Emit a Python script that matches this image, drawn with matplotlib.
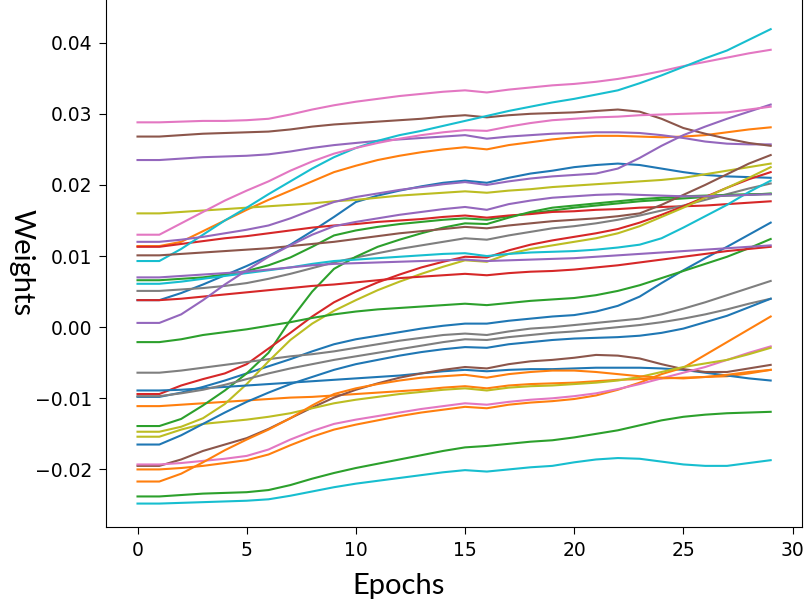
import numpy as np
import matplotlib.pyplot as plt

# weights (x 1e-3) for each tracked parameter, epochs 0..29
epochs = np.arange(30)

pink_a = [28.8, 28.8, 28.9, 29.0, 29.0, 29.1, 29.3, 29.9, 30.6, 31.2, 31.7, 32.1, 32.5, 32.8, 33.1,
          33.3, 33.0, 33.4, 33.7, 34.0, 34.2, 34.5, 34.9, 35.4, 36.0, 36.7, 37.3, 37.9, 38.5, 39.0]
cyan_a = [9.3, 9.3, 11.0, 13.0, 15.0, 16.8, 18.7, 20.5, 22.3, 23.9, 25.2, 26.2, 27.0, 27.6, 28.3,
          29.0, 29.7, 30.4, 31.0, 31.6, 32.1, 32.7, 33.3, 34.3, 35.4, 36.6, 37.8, 38.9, 40.4, 41.9]
brown_a = [26.8, 26.8, 27.0, 27.2, 27.3, 27.4, 27.5, 27.8, 28.2, 28.5, 28.7, 28.9, 29.1, 29.3, 29.6,
           29.8, 29.5, 29.8, 30.0, 30.1, 30.2, 30.4, 30.6, 30.3, 29.3, 28.0, 27.2, 26.5, 25.9, 25.5]
purple_a = [23.5, 23.5, 23.7, 23.9, 24.0, 24.1, 24.3, 24.7, 25.2, 25.6, 25.9, 26.2, 26.4, 26.6, 26.8,
            27.0, 26.5, 26.8, 27.0, 27.2, 27.3, 27.4, 27.4, 27.3, 27.0, 26.6, 26.1, 25.8, 25.7, 25.7]
pink_b = [13.0, 13.0, 14.6, 16.2, 17.8, 19.2, 20.5, 22.0, 23.3, 24.4, 25.2, 25.9, 26.5, 27.0, 27.4,
          27.7, 27.6, 28.2, 28.7, 29.1, 29.3, 29.5, 29.6, 29.8, 29.9, 30.0, 30.1, 30.2, 30.6, 31.0]
orange_a = [11.4, 11.4, 12.0, 13.5, 15.0, 16.5, 17.9, 19.2, 20.5, 21.8, 22.7, 23.5, 24.1, 24.6, 25.0,
            25.3, 25.0, 25.6, 26.0, 26.4, 26.7, 26.9, 26.9, 26.8, 26.7, 26.8, 27.0, 27.4, 27.8, 28.1]
olive_a = [16.0, 16.0, 16.2, 16.4, 16.6, 16.8, 17.0, 17.2, 17.4, 17.7, 17.9, 18.2, 18.5, 18.7, 18.9,
           19.1, 18.9, 19.2, 19.4, 19.7, 19.9, 20.1, 20.3, 20.5, 20.7, 21.0, 21.5, 22.0, 22.5, 23.0]
purple_b = [12.0, 12.0, 12.3, 12.7, 13.2, 13.7, 14.3, 15.3, 16.5, 17.6, 18.3, 18.8, 19.3, 19.7, 20.1,
            20.4, 20.0, 20.5, 20.9, 21.2, 21.4, 21.6, 22.3, 23.8, 25.5, 27.0, 28.2, 29.3, 30.3, 31.3]
purple_c = [0.6, 0.6, 1.8, 3.8, 6.0, 8.0, 9.9, 11.5, 13.0, 14.2, 14.8, 15.3, 15.8, 16.2, 16.6,
            16.9, 16.5, 17.3, 17.8, 18.2, 18.4, 18.6, 18.7, 18.6, 18.5, 18.4, 18.4, 18.5, 18.6, 18.7]
purple_d = [7.0, 7.0, 7.2, 7.4, 7.6, 7.8, 8.1, 8.4, 8.7, 8.9, 9.0, 9.1, 9.2, 9.3, 9.4,
            9.5, 9.3, 9.4, 9.5, 9.6, 9.7, 9.9, 10.1, 10.3, 10.5, 10.7, 10.9, 11.1, 11.3, 11.5]
red_a = [11.3, 11.3, 11.7, 12.1, 12.5, 12.8, 13.2, 13.6, 14.0, 14.3, 14.5, 14.8, 15.0, 15.2, 15.5,
         15.7, 15.4, 15.7, 15.9, 16.2, 16.3, 16.5, 16.6, 16.8, 16.9, 17.0, 17.1, 17.3, 17.5, 17.7]
brown_b = [10.1, 10.1, 10.3, 10.5, 10.7, 10.9, 11.1, 11.4, 11.7, 12.0, 12.4, 12.8, 13.2, 13.5, 13.8,
           14.1, 13.9, 14.3, 14.6, 14.9, 15.1, 15.3, 15.6, 16.0, 17.2, 18.6, 20.0, 21.5, 23.0, 24.2]
cyan_b = [6.1, 6.1, 6.4, 6.8, 7.2, 7.6, 8.0, 8.4, 8.9, 9.3, 9.5, 9.7, 9.9, 10.1, 10.3,
          10.4, 10.0, 10.3, 10.5, 10.6, 10.7, 10.9, 11.2, 11.6, 12.5, 14.0, 15.6, 17.2, 19.0, 20.6]
green_b = [6.6, 6.6, 6.8, 7.0, 7.4, 7.9, 8.7, 9.8, 11.3, 12.9, 13.6, 14.1, 14.5, 14.8, 15.1,
           15.3, 15.1, 15.6, 16.0, 16.4, 16.8, 17.1, 17.4, 17.7, 17.9, 18.1, 18.3, 18.5, 18.6, 18.8]
green_c = [-13.9, -13.9, -12.9, -11.0, -8.9, -6.5, -3.6, 1.0, 5.0, 8.2, 9.9, 11.3, 12.3, 13.2, 14.0,
           14.6, 14.5, 15.4, 16.2, 16.8, 17.1, 17.4, 17.7, 18.0, 18.2, 18.4, 18.5, 18.6, 18.7, 18.7]
red_b = [-9.4, -9.4, -8.2, -7.3, -6.5, -5.2, -3.0, -0.8, 1.5, 3.5, 5.0, 6.3, 7.4, 8.4, 9.2,
         9.9, 9.8, 10.8, 11.6, 12.2, 12.7, 13.2, 13.8, 14.7, 15.8, 17.0, 18.3, 19.6, 20.8, 21.8]
olive_b = [-14.7, -14.7, -14.0, -12.8, -10.8, -8.0, -4.8, -1.8, 0.5, 2.3, 3.8, 5.2, 6.4, 7.5, 8.5,
           9.4, 9.2, 10.3, 11.0, 11.5, 12.0, 12.5, 13.2, 14.2, 15.5, 16.8, 18.2, 19.6, 21.0, 22.5]
gray_a = [5.1, 5.1, 5.3, 5.5, 5.8, 6.2, 6.8, 7.5, 8.3, 9.1, 9.8, 10.4, 11.0, 11.5, 12.0,
          12.5, 12.3, 12.9, 13.4, 13.9, 14.2, 14.6, 15.1, 15.7, 16.4, 17.1, 17.9, 18.7, 19.5, 20.2]
red_c = [3.8, 3.8, 4.0, 4.3, 4.6, 4.9, 5.2, 5.5, 5.8, 6.0, 6.3, 6.6, 6.9, 7.1, 7.3,
         7.5, 7.3, 7.6, 7.8, 7.9, 8.1, 8.4, 8.7, 9.1, 9.5, 9.9, 10.3, 10.7, 11.0, 11.3]
blue_a = [3.8, 3.8, 4.8, 6.0, 7.3, 8.6, 10.0, 11.6, 13.5, 15.5, 17.6, 18.5, 19.2, 19.8, 20.3,
          20.6, 20.3, 21.0, 21.6, 22.0, 22.5, 22.8, 23.0, 22.8, 22.3, 21.8, 21.4, 21.2, 21.1, 21.0]
green_d = [-2.1, -2.1, -1.7, -1.1, -0.7, -0.3, 0.2, 0.7, 1.3, 1.8, 2.2, 2.5, 2.7, 2.9, 3.1,
           3.3, 3.1, 3.4, 3.7, 3.9, 4.1, 4.5, 5.1, 5.9, 6.9, 7.9, 8.9, 9.9, 11.1, 12.4]
gray_b = [-6.4, -6.4, -6.1, -5.7, -5.3, -4.9, -4.5, -4.1, -3.8, -3.4, -2.9, -2.4, -1.9, -1.5, -1.1,
          -0.9, -1.1, -0.6, -0.2, 0.0, 0.3, 0.6, 0.9, 1.2, 1.8, 2.6, 3.5, 4.5, 5.5, 6.5]
gray_c = [-9.7, -9.7, -9.3, -8.8, -8.1, -7.3, -6.5, -5.8, -5.2, -4.6, -4.1, -3.6, -3.1, -2.6, -2.1,
          -1.7, -1.8, -1.4, -1.1, -0.8, -0.6, -0.3, 0.0, 0.3, 0.7, 1.2, 1.8, 2.5, 3.3, 4.0]
blue_b = [-9.8, -9.8, -9.2, -8.4, -7.5, -6.5, -5.5, -4.5, -3.4, -2.4, -1.7, -1.2, -0.7, -0.2, 0.2,
          0.5, 0.5, 0.9, 1.2, 1.5, 1.7, 2.2, 3.0, 4.3, 6.2, 8.0, 9.7, 11.3, 13.0, 14.7]
blue_c = [-8.9, -8.9, -8.8, -8.6, -8.4, -8.2, -8.0, -7.8, -7.6, -7.4, -7.2, -7.0, -6.8, -6.5, -6.2,
          -6.0, -6.2, -6.0, -5.9, -5.9, -5.8, -5.7, -5.7, -5.7, -5.8, -6.0, -6.4, -6.8, -7.2, -7.5]
blue_d = [-16.5, -16.5, -15.2, -13.6, -12.0, -10.5, -9.2, -8.0, -7.0, -6.0, -5.2, -4.6, -4.0, -3.5, -3.1,
          -2.8, -2.9, -2.4, -2.1, -1.8, -1.6, -1.5, -1.4, -1.2, -0.8, -0.2, 0.7, 1.6, 2.8, 4.0]
orange_b = [-11.1, -11.1, -10.9, -10.7, -10.5, -10.3, -10.1, -9.9, -9.8, -9.6, -9.4, -9.2, -9.0, -8.8, -8.5,
            -8.3, -8.6, -8.2, -8.0, -7.9, -7.8, -7.6, -7.4, -7.3, -7.2, -7.1, -7.0, -6.9, -6.5, -6.0]
orange_c = [-20.0, -20.0, -19.8, -19.5, -19.1, -18.7, -17.9, -16.6, -15.4, -14.4, -13.7, -13.1, -12.5, -12.0, -11.6,
            -11.2, -11.4, -10.9, -10.6, -10.4, -10.1, -9.6, -8.8, -7.8, -6.6, -5.7, -3.9, -2.1, -0.3, 1.5]
orange_d = [-21.7, -21.7, -20.6, -19.0, -17.3, -15.8, -14.4, -12.8, -11.0, -9.4, -8.6, -8.0, -7.5, -7.1, -6.9,
            -6.7, -7.1, -6.6, -6.3, -6.1, -6.1, -6.3, -6.6, -6.9, -7.1, -7.2, -7.0, -6.7, -6.3, -6.0]
pink_c = [-19.3, -19.3, -19.1, -18.8, -18.5, -18.1, -17.2, -15.8, -14.6, -13.6, -13.0, -12.5, -12.0, -11.5, -11.1,
          -10.7, -10.9, -10.5, -10.2, -10.0, -9.7, -9.3, -8.7, -8.0, -7.2, -6.4, -5.6, -4.6, -3.6, -2.7]
olive_c = [-15.4, -15.4, -14.4, -13.6, -13.3, -13.0, -12.6, -12.1, -11.4, -10.7, -10.2, -9.8, -9.4, -9.1, -8.8,
           -8.6, -8.9, -8.5, -8.3, -8.2, -8.0, -7.8, -7.5, -7.0, -6.3, -5.6, -5.1, -4.6, -3.8, -2.9]
brown_c = [-19.5, -19.5, -18.6, -17.4, -16.5, -15.6, -14.3, -12.8, -11.3, -9.9, -8.8, -7.9, -7.1, -6.5, -6.0,
           -5.6, -5.8, -5.2, -4.8, -4.6, -4.3, -3.9, -4.0, -4.4, -5.2, -5.9, -6.3, -6.3, -5.8, -5.3]
green_e = [-23.8, -23.8, -23.6, -23.4, -23.3, -23.2, -22.9, -22.2, -21.3, -20.5, -19.8, -19.2, -18.6, -18.0, -17.4,
           -16.9, -16.7, -16.4, -16.1, -15.9, -15.5, -15.0, -14.5, -13.8, -13.1, -12.6, -12.3, -12.1, -12.0, -11.9]
cyan_c = [-24.8, -24.8, -24.7, -24.6, -24.5, -24.4, -24.2, -23.7, -23.1, -22.5, -22.0, -21.6, -21.2, -20.8, -20.4,
          -20.1, -20.3, -20.0, -19.7, -19.5, -19.0, -18.6, -18.4, -18.5, -18.9, -19.3, -19.5, -19.5, -19.1, -18.7]

series = [blue_a, orange_a, green_b, red_a, purple_a, brown_a, pink_a, gray_a, olive_a, cyan_a,
          blue_b, orange_b, green_c, red_b, purple_b, brown_b, pink_b, gray_b, olive_b, cyan_b,
          blue_c, orange_c, green_d, red_c, purple_c, brown_c, pink_c, gray_c, olive_c, cyan_c,
          blue_d, orange_d, green_e, purple_d]
colors = ['tab:blue', 'tab:orange', 'tab:green', 'tab:red', 'tab:purple',
          'tab:brown', 'tab:pink', 'tab:gray', 'tab:olive', 'tab:cyan'] * 3 + \
         ['tab:blue', 'tab:orange', 'tab:green', 'tab:purple']

fig = plt.figure(figsize=(8.08, 6.10), dpi=100)
# axes run up to the top edge of the picture (top frame is cut off there)
ax = fig.add_axes([0.131, 0.136, 0.862, 0.864])

for w, c in zip(series, colors):
    ax.plot(epochs, np.array(w) / 1000, color=c, linewidth=1.5)

ax.set_ylim(-0.0281, 0.0460)
ax.spines['top'].set_visible(False)
ax.set_xticks([0, 5, 10, 15, 20, 25, 30])
ax.set_yticks([-0.02, -0.01, 0.0, 0.01, 0.02, 0.03, 0.04])
ax.tick_params(labelsize=13.5, length=5, pad=5)

fig.text(0.493, 0.04, 'Epochs', fontsize=21, family='Lato', ha='center', va='center')
fig.text(0.027, 0.57, 'Weights', fontsize=21, family='Lato', rotation=-90,
         ha='center', va='center')

fig.savefig('out.png', dpi=100)
